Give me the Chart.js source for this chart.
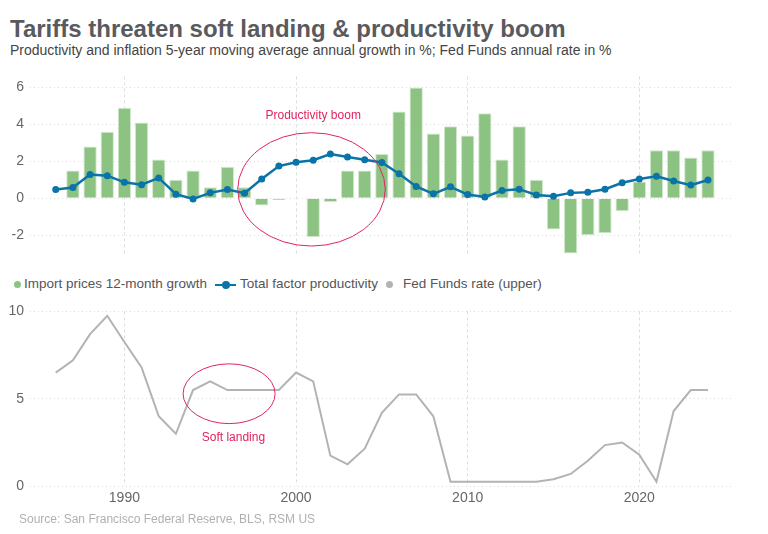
<!DOCTYPE html>
<html>
<head>
<meta charset="utf-8">
<script src="https://cdn.jsdelivr.net/npm/chart.js@4"></script>
<style>
  body { margin: 0; background: #fff; font-family: "Liberation Sans", Arial, sans-serif; }
  #page { position: relative; width: 768px; height: 534px; overflow: hidden; }
  #title { position: absolute; left: 10px; top: 15px; font-size: 24px; font-weight: bold; color: #595a5e; white-space: nowrap; }
  #subtitle { position: absolute; left: 10px; top: 42px; font-size: 14px; color: #444; white-space: nowrap; }
  #source { position: absolute; left: 19px; top: 512px; font-size: 12px; color: #b0b0b0; white-space: nowrap; }
  .leg { position: absolute; top: 276px; font-size: 13.5px; color: #555; white-space: nowrap; }
  .dot { position: absolute; width: 7px; height: 7px; border-radius: 50%; top: 281px; }
  .ln { position: absolute; width: 21px; height: 2px; top: 284px; }
  .ln i { position: absolute; left: 7px; top: -3px; width: 8px; height: 8px; border-radius: 50%; }
  #top { position: absolute; left: 0; top: 62px; }
  #bottom { position: absolute; left: 0; top: 297px; }
</style>
</head>
<body>
<div id="page">
  <div id="title">Tariffs threaten soft landing &amp; productivity boom</div>
  <div id="subtitle">Productivity and inflation 5-year moving average annual growth in %; Fed Funds annual rate in %</div>
  <canvas id="top" width="768" height="206"></canvas>
  <span class="dot" style="left:14px;background:#8cc383"></span>
  <span class="leg" style="left:24px">Import prices 12-month growth</span>
  <span class="ln" style="left:215px;background:#0a73a8"><i style="background:#0a73a8"></i></span>
  <span class="leg" style="left:240px">Total factor productivity</span>
  <span class="dot" style="left:386px;background:#b3b3b3"></span>
  <span class="leg" style="left:403px">Fed Funds rate (upper)</span>
  <canvas id="bottom" width="768" height="222"></canvas>
  <div id="source">Source: San Francisco Federal Reserve, BLS, RSM US</div>
</div>
<script>
// years 1986 .. 2024
var years = [1986, 1987, 1988, 1989, 1990, 1991, 1992, 1993, 1994, 1995,
             1996, 1997, 1998, 1999, 2000, 2001, 2002, 2003, 2004, 2005,
             2006, 2007, 2008, 2009, 2010, 2011, 2012, 2013, 2014, 2015,
             2016, 2017, 2018, 2019, 2020, 2021, 2022, 2023, 2024];

var importPrices = [null, 1.5, 2.8, 3.6, 4.9, 4.1, 2.1, 1.0, 1.5, 0.6,
                    1.7, 0.6, -0.4, -0.1, 0, -2.1, -0.2, 1.5, 1.5, 2.4,
                    4.7, 6.0, 3.5, 3.9, 3.4, 4.6, 2.1, 3.9, 1.0, -1.7,
                    -3.0, -2.0, -1.9, -0.7, 0.9, 2.6, 2.6, 2.2, 2.6];

var tfp = [0.47, 0.58, 1.28, 1.22, 0.86, 0.73, 1.10, 0.22, -0.04, 0.29,
           0.47, 0.27, 1.04, 1.74, 1.95, 2.06, 2.39, 2.23, 2.08, 1.94,
           1.33, 0.64, 0.24, 0.62, 0.20, 0.07, 0.42, 0.49, 0.18, 0.11,
           0.29, 0.33, 0.49, 0.84, 1.04, 1.19, 0.93, 0.71, 0.99];

var fedFunds = [6.5, 7.2, 8.7, 9.75, 8.25, 6.8, 4.0, 3.0, 5.5, 6.0,
                5.5, 5.5, 5.5, 5.5, 6.5, 6.0, 1.75, 1.25, 2.15, 4.2,
                5.25, 5.25, 4.0, 0.25, 0.25, 0.25, 0.25, 0.25, 0.25, 0.4,
                0.7, 1.45, 2.35, 2.5, 1.8, 0.25, 4.3, 5.5, 5.5];

var xTicks = [1990, 2000, 2010, 2020];

var boomNote = { label: 'Productivity boom', x: 2000.9, y: 0.48, rx: 4.3, ry: 3.07, labelX: 2001, labelY: 4.45 };
var landingNote = { label: 'Soft landing', x: 1996.1, y: 5.29, rx: 2.68, ry: 1.71, labelX: 1996.35, labelY: 2.75 };

var noteColor = '#e0245e';
var gridColor = '#dcdcdc';
var tickFont = { family: '"Liberation Sans", Arial, sans-serif', size: 14 };

function pairs(values) {
    return years.map(function (yr, i) { return { x: yr, y: values[i] }; });
}

// draws an ellipse and label given in data units
function notePlugin(note) {
    return {
        id: 'note',
        afterDatasetsDraw: function (chart) {
            var ctx = chart.ctx;
            var xs = chart.scales.x, ys = chart.scales.y;
            var cx = xs.getPixelForValue(note.x);
            var cy = ys.getPixelForValue(note.y);
            var rx = Math.abs(xs.getPixelForValue(note.x + note.rx) - cx);
            var ry = Math.abs(ys.getPixelForValue(note.y + note.ry) - cy);
            ctx.save();
            ctx.strokeStyle = noteColor;
            ctx.lineWidth = 1;
            ctx.beginPath();
            ctx.ellipse(cx, cy, rx, ry, 0, 0, Math.PI * 2);
            ctx.stroke();
            ctx.fillStyle = noteColor;
            ctx.font = '12px "Liberation Sans", Arial, sans-serif';
            ctx.textAlign = 'center';
            ctx.textBaseline = 'middle';
            ctx.fillText(note.label, xs.getPixelForValue(note.labelX), ys.getPixelForValue(note.labelY));
            ctx.restore();
        }
    };
}

function xAxis(showLabels) {
    return {
        type: 'linear',
        min: 1984.5,
        max: 2025.4,
        offset: false,
        afterBuildTicks: function (scale) {
            scale.ticks = xTicks.map(function (v) { return { value: v }; });
        },
        ticks: {
            display: showLabels,
            font: tickFont,
            color: '#666',
            padding: 4,
            callback: function (v) { return String(v); }
        },
        grid: { color: gridColor, drawTicks: false, offset: false },
        border: { display: false, dash: [3, 3] }
    };
}

function yAxis(min, max, ticks) {
    return {
        min: min,
        max: max,
        afterBuildTicks: function (scale) {
            scale.ticks = ticks.map(function (v) { return { value: v }; });
        },
        afterFit: function (scale) { scale.width = 30; },
        ticks: { font: tickFont, color: '#666', padding: 6 },
        grid: { color: gridColor, drawTicks: false },
        border: { display: false, dash: [1, 3] }
    };
}

new Chart(document.getElementById('top'), {
    type: 'bar',
    data: {
        datasets: [{
            type: 'line',
            label: 'Total factor productivity',
            data: pairs(tfp),
            borderColor: '#0a73a8',
            backgroundColor: '#0a73a8',
            borderWidth: 2.5,
            pointRadius: 3.5,
            pointBorderWidth: 0,
            tension: 0,
            order: 0
        }, {
            type: 'bar',
            label: 'Import prices 12-month growth',
            data: pairs(importPrices),
            backgroundColor: '#8cc383',
            borderColor: '#d2e8cd',
            borderWidth: 1,
            barPercentage: 0.97,
            categoryPercentage: 0.8,
            order: 1
        }]
    },
    options: {
        responsive: false,
        animation: false,
        layout: { padding: { top: 10, right: 36, bottom: 6, left: 0 } },
        plugins: { legend: { display: false }, tooltip: { enabled: false } },
        scales: {
            x: xAxis(false),
            y: yAxis(-3, 6.6, [-2, 0, 2, 4, 6])
        }
    },
    plugins: [notePlugin(boomNote)]
});

new Chart(document.getElementById('bottom'), {
    type: 'line',
    data: {
        datasets: [{
            label: 'Fed Funds rate (upper)',
            data: pairs(fedFunds),
            borderColor: '#b3b3b3',
            backgroundColor: '#b3b3b3',
            borderWidth: 2,
            pointRadius: 0,
            tension: 0
        }]
    },
    options: {
        responsive: false,
        animation: false,
        layout: { padding: { top: 10, right: 36, bottom: 8, left: 0 } },
        plugins: { legend: { display: false }, tooltip: { enabled: false } },
        scales: {
            x: xAxis(true),
            y: yAxis(0, 10, [0, 5, 10])
        }
    },
    plugins: [notePlugin(landingNote)]
});
</script>
</body>
</html>
